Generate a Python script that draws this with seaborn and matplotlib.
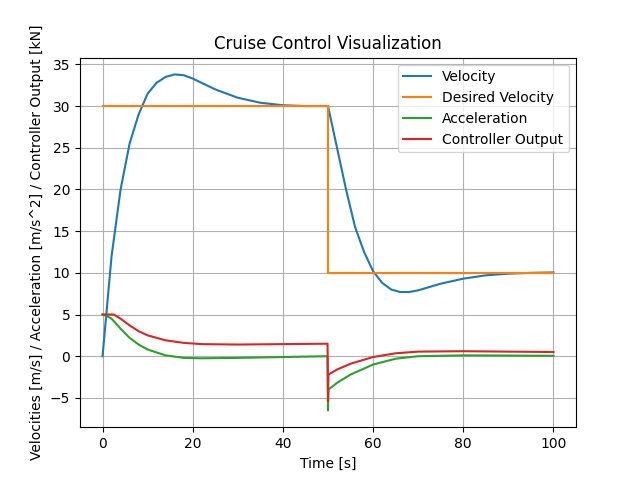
import matplotlib
matplotlib.use("Agg")
import matplotlib.pyplot as plt
import seaborn as sns
import pandas as pd

vel_t = [0, 2, 4, 6, 8, 10, 12, 14, 16, 18, 20, 25, 30, 35, 40, 45, 50, 52, 54, 56, 58, 60, 62, 64, 66, 68, 70, 75, 80, 85, 90, 95, 100]
vel_v = [0, 12, 20, 25.5, 29, 31.5, 32.8, 33.5, 33.8, 33.7, 33.3, 32, 31, 30.4, 30.1, 30.0, 30.0, 25, 20, 15.5, 12.5, 10.2, 8.8, 8.0, 7.7, 7.7, 7.9, 8.7, 9.3, 9.7, 9.9, 10.0, 10.05]
des_t = [0, 50, 50, 100]
des_v = [30, 30, 10, 10]
acc_t = [0, 1, 2, 4, 6, 8, 10, 14, 18, 22, 30, 40, 49.9, 50, 50.1, 52, 55, 60, 65, 70, 80, 100]
acc_v = [5, 4.8, 4.5, 3.3, 2.2, 1.4, 0.8, 0.1, -0.2, -0.25, -0.2, -0.1, 0, -6.5, -4, -3.2, -2.2, -1.0, -0.3, 0, 0.1, 0.05]
ctl_t = [0, 2.5, 4, 6, 8, 10, 14, 18, 22, 30, 40, 49.9, 50, 50.1, 52, 55, 60, 65, 70, 80, 100]
ctl_v = [5, 5, 4.5, 3.7, 3.0, 2.5, 1.9, 1.6, 1.45, 1.4, 1.45, 1.5, -5.4, -2.2, -1.6, -0.9, -0.1, 0.35, 0.55, 0.6, 0.5]

fig, ax = plt.subplots(figsize=(6.4, 4.8), dpi=100)
series = [("Velocity", vel_t, vel_v), ("Desired Velocity", des_t, des_v),
          ("Acceleration", acc_t, acc_v), ("Controller Output", ctl_t, ctl_v)]
colors = ["#1f77b4", "#ff7f0e", "#2ca02c", "#d62728"]
for (name, t, v), c in zip(series, colors):
    df = pd.DataFrame({"t": t, "v": v})
    sns.lineplot(data=df, x="t", y="v", ax=ax, label=name, color=c, sort=False, estimator=None)
ax.set_title("Cruise Control Visualization")
ax.set_xlabel("Time [s]")
ax.set_ylabel("Velocities [m/s] / Acceleration [m/s^2] / Controller Output [kN]")
ax.grid(True)
ax.legend(loc="upper right")
fig.savefig("out.png", dpi=100)
